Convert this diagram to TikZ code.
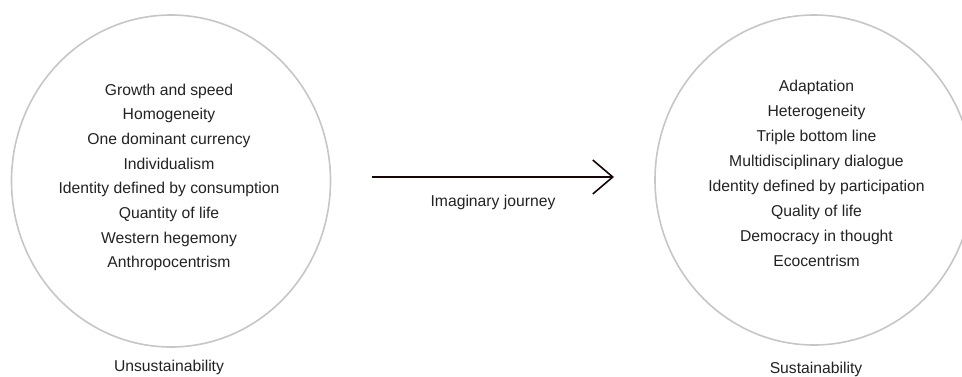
\documentclass[tikz,border=0pt]{standalone}
\usepackage{fontspec}
\setmainfont{Liberation Sans}
\usetikzlibrary{arrows.meta,shapes.geometric}
\definecolor{ringgray}{HTML}{C6C6C6}
\definecolor{inkgray}{HTML}{222222}
\definecolor{shaftink}{HTML}{140606}
\tikzset{
  ring/.style={ellipse, draw=ringgray, line width=1.6pt, inner sep=0pt},
  item/.style={anchor=base, text=inkgray, inner sep=0pt,
    font=\fontsize{15.7}{18}\selectfont},
  journey/.style={draw=shaftink, line width=2.6pt,
    -{Straight Barb[length=20pt, width=34pt, line width=1.6pt]}}
}
\begin{document}
\begin{tikzpicture}[x=1pt, y=-1pt]
  \useasboundingbox (0,0) rectangle (962,376);
  \clip (0,0) rectangle (962,376);

  % the two worlds
  \node[ring, minimum width=319pt, minimum height=332pt] (unsus) at (171,181) {};
  \node[ring, minimum width=318pt, minimum height=330pt] (sus) at (814,180) {};

  % values of the unsustainable world
  \foreach \t [count=\i from 0] in {Growth and speed, Homogeneity,
      One dominant currency, Individualism, Identity defined by consumption,
      Quantity of life, Western hegemony, Anthropocentrism}
    \node[item] (u\i) at (169, 95+24.7*\i) {\t};

  % values of the sustainable world
  \foreach \t [count=\i from 0] in {Adaptation, Heterogeneity,
      Triple bottom line, Multidisciplinary dialogue,
      Identity defined by participation, Quality of life,
      Democracy in thought, Ecocentrism}
    \node[item] (s\i) at (816.5, 91.7+25*\i) {\t};

  % captions
  \node[item] (ucap) at (169,371) {Unsustainability};
  \node[item] (scap) at (816,373) {Sustainability};

  % the journey between them
  \coordinate (jstart) at (372,177);
  \coordinate (jend) at (614,177);
  \draw[journey] (jstart) -- (jend);
  \node[item] (jlabel) at (493,206.5) {Imaginary journey};
\end{tikzpicture}
\end{document}
